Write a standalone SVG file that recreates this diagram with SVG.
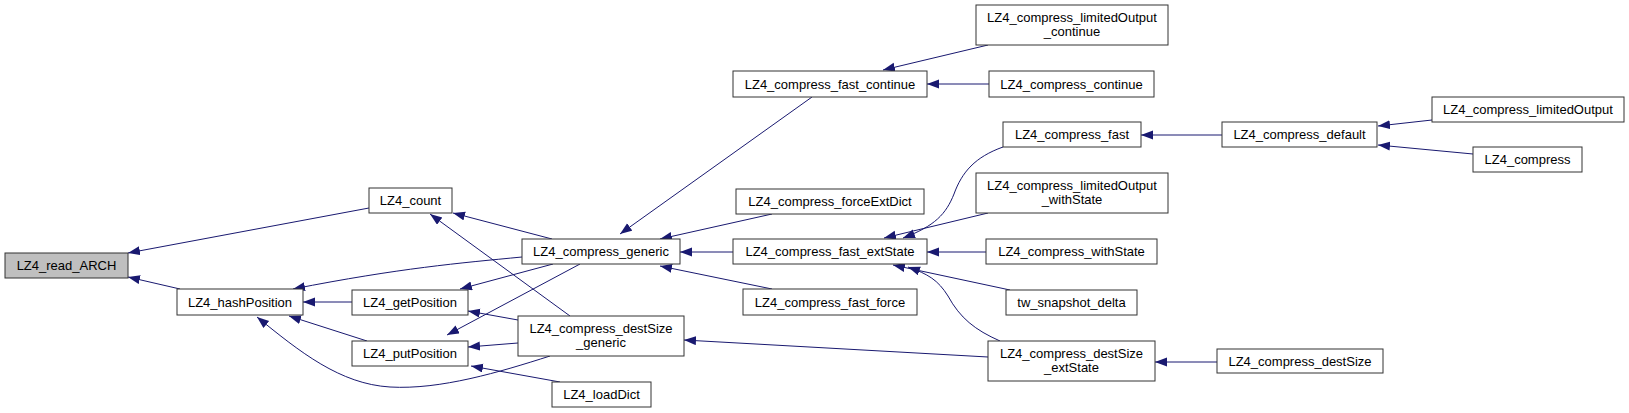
<svg xmlns="http://www.w3.org/2000/svg" width="1629" height="413" viewBox="0 0 1629 413">
<style>
.n rect{fill:#fff;stroke:#333;stroke-width:1}
.n.h rect{fill:#bfbfbf}
.n text{font-family:"Liberation Sans",Arial,sans-serif;font-size:13px;fill:#000;text-anchor:middle}
.e path{fill:none;stroke:#191970;stroke-width:1}
</style>
<defs>
<marker id="a" markerUnits="userSpaceOnUse" markerWidth="13" markerHeight="10" refX="12" refY="4.5" orient="auto">
<path d="M0,0 L12,4.5 L0,9 z" fill="#191970" stroke="none"/>
</marker>
</defs>
<rect width="1629" height="413" fill="#fff"/>
<g id="edges" class="e">
<path d="M369,208 L128,253" marker-end="url(#a)"/>
<path d="M180,289 L128,277" marker-end="url(#a)"/>
<path d="M522,257 C460,263 400,268 293,289" marker-end="url(#a)"/>
<path d="M352,302 L303,302" marker-end="url(#a)"/>
<path d="M367,341 L289,316" marker-end="url(#a)"/>
<path d="M550,356 C500,372 440,390 390,387 C340,384 300,352 257,317" marker-end="url(#a)"/>
<path d="M552,239 L453,213" marker-end="url(#a)"/>
<path d="M570,316 L430,214" marker-end="url(#a)"/>
<path d="M553,264 L460,289" marker-end="url(#a)"/>
<path d="M518,320 L468,311" marker-end="url(#a)"/>
<path d="M580,264 L447,335" marker-end="url(#a)"/>
<path d="M518,343 L468,347" marker-end="url(#a)"/>
<path d="M560,382 L471,366" marker-end="url(#a)"/>
<path d="M812,97 L620,234" marker-end="url(#a)"/>
<path d="M772,214 L660,239" marker-end="url(#a)"/>
<path d="M733,252 L680,252" marker-end="url(#a)"/>
<path d="M772,289 L660,266" marker-end="url(#a)"/>
<path d="M988,357 L684,340" marker-end="url(#a)"/>
<path d="M988,45 L883,70" marker-end="url(#a)"/>
<path d="M989,84 L927,84" marker-end="url(#a)"/>
<path d="M1003,147 C975,157 962,172 954,194 C946,214 935,226 903,238" marker-end="url(#a)"/>
<path d="M988,213 L884,238" marker-end="url(#a)"/>
<path d="M986,252 L927,252" marker-end="url(#a)"/>
<path d="M1010,290 L893,265" marker-end="url(#a)"/>
<path d="M1000,341 C975,330 960,318 948,296 C938,280 928,274 908,267" marker-end="url(#a)"/>
<path d="M1222,135 L1141,135" marker-end="url(#a)"/>
<path d="M1432,120 L1378,126" marker-end="url(#a)"/>
<path d="M1473,154 L1378,145" marker-end="url(#a)"/>
<path d="M1217,362 L1155,362" marker-end="url(#a)"/>
</g>
<g id="LZ4_read_ARCH" class="n h"><rect x="5" y="253" width="123" height="25"/><text x="66.5" y="270">LZ4_read_ARCH</text></g>
<g id="LZ4_hashPosition" class="n"><rect x="177" y="289" width="126" height="26"/><text x="240" y="306.5">LZ4_hashPosition</text></g>
<g id="LZ4_count" class="n"><rect x="369" y="188" width="83" height="25"/><text x="410.5" y="205">LZ4_count</text></g>
<g id="LZ4_getPosition" class="n"><rect x="352" y="290" width="116" height="25"/><text x="410" y="307">LZ4_getPosition</text></g>
<g id="LZ4_putPosition" class="n"><rect x="352" y="341" width="116" height="25"/><text x="410" y="358">LZ4_putPosition</text></g>
<g id="LZ4_compress_generic" class="n"><rect x="522" y="239" width="158" height="25"/><text x="601" y="256">LZ4_compress_generic</text></g>
<g id="LZ4_compress_destSize_generic" class="n"><rect x="518" y="316" width="166" height="40"/><text x="601" y="333">LZ4_compress_destSize</text><text x="601" y="347">_generic</text></g>
<g id="LZ4_loadDict" class="n"><rect x="552" y="382" width="99" height="25"/><text x="601.5" y="399">LZ4_loadDict</text></g>
<g id="LZ4_compress_fast_continue" class="n"><rect x="733" y="71" width="194" height="26"/><text x="830" y="88.5">LZ4_compress_fast_continue</text></g>
<g id="LZ4_compress_forceExtDict" class="n"><rect x="736" y="189" width="188" height="25"/><text x="830" y="206">LZ4_compress_forceExtDict</text></g>
<g id="LZ4_compress_fast_extState" class="n"><rect x="733" y="239" width="194" height="25"/><text x="830" y="256">LZ4_compress_fast_extState</text></g>
<g id="LZ4_compress_fast_force" class="n"><rect x="743" y="289" width="174" height="26"/><text x="830" y="306.5">LZ4_compress_fast_force</text></g>
<g id="LZ4_compress_limitedOutput_continue" class="n"><rect x="976" y="5" width="192" height="40"/><text x="1072" y="22">LZ4_compress_limitedOutput</text><text x="1072" y="36">_continue</text></g>
<g id="LZ4_compress_continue" class="n"><rect x="989" y="71" width="165" height="26"/><text x="1071.5" y="88.5">LZ4_compress_continue</text></g>
<g id="LZ4_compress_fast" class="n"><rect x="1003" y="122" width="138" height="25"/><text x="1072" y="139">LZ4_compress_fast</text></g>
<g id="LZ4_compress_limitedOutput_withState" class="n"><rect x="976" y="173" width="192" height="40"/><text x="1072" y="190">LZ4_compress_limitedOutput</text><text x="1072" y="204">_withState</text></g>
<g id="LZ4_compress_withState" class="n"><rect x="986" y="239" width="171" height="25"/><text x="1071.5" y="256">LZ4_compress_withState</text></g>
<g id="tw_snapshot_delta" class="n"><rect x="1006" y="290" width="131" height="25"/><text x="1071.5" y="307">tw_snapshot_delta</text></g>
<g id="LZ4_compress_destSize_extState" class="n"><rect x="988" y="341" width="167" height="40"/><text x="1071.5" y="358">LZ4_compress_destSize</text><text x="1071.5" y="372">_extState</text></g>
<g id="LZ4_compress_default" class="n"><rect x="1222" y="122" width="155" height="25"/><text x="1299.5" y="139">LZ4_compress_default</text></g>
<g id="LZ4_compress_limitedOutput" class="n"><rect x="1432" y="97" width="192" height="25"/><text x="1528" y="114">LZ4_compress_limitedOutput</text></g>
<g id="LZ4_compress" class="n"><rect x="1473" y="147" width="109" height="25"/><text x="1527.5" y="164">LZ4_compress</text></g>
<g id="LZ4_compress_destSize" class="n"><rect x="1217" y="349" width="166" height="24"/><text x="1300" y="365.5">LZ4_compress_destSize</text></g>
</svg>
